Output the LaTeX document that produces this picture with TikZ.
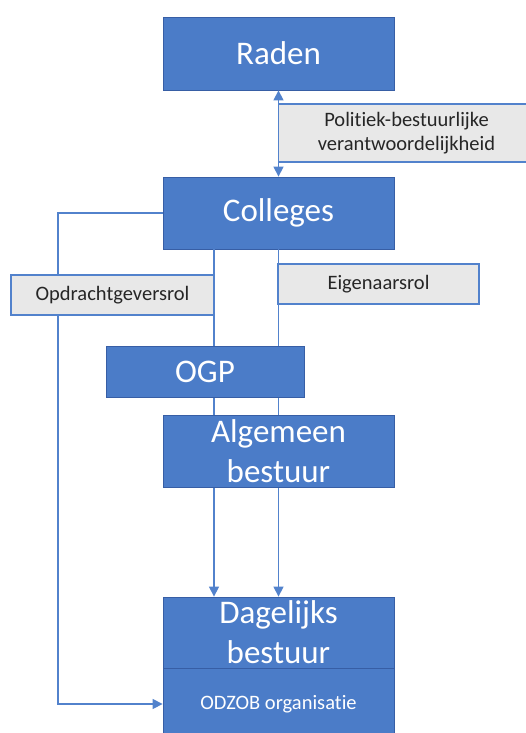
\documentclass[tikz,border=0pt]{standalone}
\usepackage{fontspec}
\setmainfont{Carlito}[Ligatures=NoCommon]
\usetikzlibrary{arrows.meta}
\definecolor{odzobblauw}{RGB}{75,124,200}
\definecolor{randblauw}{RGB}{55,94,165}
\definecolor{lijnblauw}{RGB}{82,130,204}
\definecolor{labelgrijs}{RGB}{232,232,232}
\newcommand{\groot}{\fontsize{33}{40}\selectfont}
\newcommand{\klein}{\fontsize{20.5}{24}\selectfont}

\begin{document}
\begin{tikzpicture}[x=1pt,y=-1pt,
  >={Triangle[length=10pt,width=10pt]},
  blok/.style={shape=rectangle, fill=odzobblauw, draw=randblauw, line width=0.8pt,
    text=white, inner sep=0pt, align=center},
  rol/.style={shape=rectangle, fill=labelgrijs, draw=lijnblauw, line width=1.2pt,
    text=black!85, inner sep=0pt, align=center, font=\klein},
  lijn/.style={draw=lijnblauw, line width=1.3pt}]

\useasboundingbox (0,0) rectangle (526,733);

% bovenste en onderste blokken
\path (278.5,53.5) node (Raden) [blok, minimum width=231pt, minimum height=73pt, font=\groot] {Raden};
\path (278.5,213) node (Colleges) [blok, minimum width=231pt, minimum height=72pt, font=\groot] {Colleges};
\path (278.5,632.5) node (Dagelijks) [blok, minimum width=231pt, minimum height=71pt, font=\groot] {Dagelijks\\bestuur};
\path (278.5,704) node (ODZOB) [blok, minimum width=231pt, minimum height=72pt, font=\klein] {ODZOB organisatie};

\coordinate (lijnA) at (214,0);
\coordinate (links) at (58,0);

\draw [lijn,<->] (Raden) to (Colleges);
\draw [lijn,->] (Colleges.south -| lijnA) to (Dagelijks.north -| lijnA);
\draw [lijn,->] (Colleges.south) to (Dagelijks.north);
\draw [lijn,->] (Colleges.west) -- (Colleges.west -| links) |- (ODZOB.west);

% middelste blokken
\path (205,371.5) node (OGP) [blok, minimum width=198pt, minimum height=51pt, font=\groot] {OGP};
\path (278.5,451) node (Algemeen) [blok, minimum width=231pt, minimum height=72pt, font=\groot] {Algemeen\\bestuur};

% rollen
\path (406.5,133) node (Politiek) [rol, minimum width=256pt, minimum height=58pt] {Politiek-bestuurlijke\\verantwoordelijkheid};
\path (112.5,295) node (Opdracht) [rol, minimum width=203pt, minimum height=40pt] {Opdrachtgeversrol};
\path (378.5,284) node (Eigenaar) [rol, minimum width=201pt, minimum height=40pt] {Eigenaarsrol};

\end{tikzpicture}
\end{document}
